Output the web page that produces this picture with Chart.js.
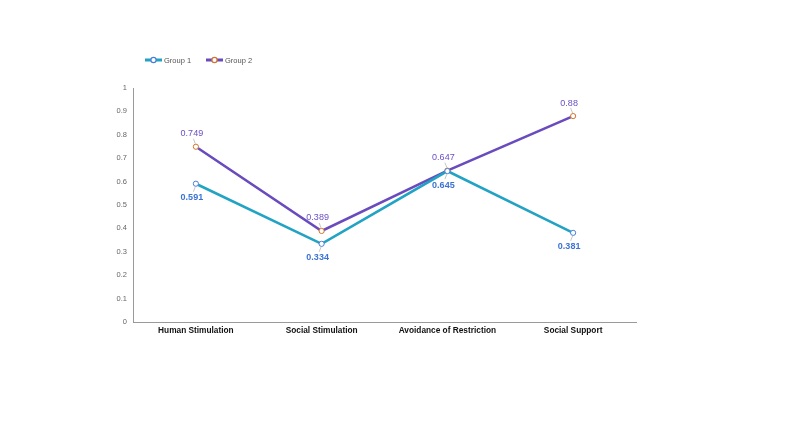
<!DOCTYPE html>
<html>
<head>
<meta charset="utf-8">
<script src="https://cdn.jsdelivr.net/npm/chart.js@4.4.1/dist/chart.umd.min.js"></script>
<style>
html,body{margin:0;padding:0;background:#fff;}
#wrap{position:relative;width:787px;height:443px;}
</style>
</head>
<body>
<div id="wrap"><canvas id="c" width="787" height="443"></canvas></div>
<script>
const categories = ["Human Stimulation", "Social Stimulation", "Avoidance of Restriction", "Social Support"];
const group1 = [0.591, 0.334, 0.645, 0.381];
const group2 = [0.749, 0.389, 0.647, 0.88];
const seriesNames = ["Group 1", "Group 2"];

const C1 = "#22a3c4", C1pt = "#4a7fd8", C1lbl = "#3d73d4";
const C2 = "#6a4bbd", C2pt = "#d4732a", C2lbl = "#6a4fc6";
const FONT = "'Liberation Sans', Arial, Helvetica, sans-serif";

const labelPlugin = {
  id: 'valLabels',
  afterDatasetsDraw(chart) {
    const ctx = chart.ctx;
    chart.data.datasets.forEach((ds, di) => {
      const meta = chart.getDatasetMeta(di);
      const above = di === 1;
      meta.data.forEach((pt, i) => {
        const v = ds.data[i];
        const x = pt.x, y = pt.y;
        const dy = above ? -13 : 14;
        ctx.save();
        ctx.strokeStyle = "#b8b8b8";
        ctx.lineWidth = 0.8;
        ctx.beginPath();
        ctx.moveTo(x - 0.5, y + (above ? -3 : 3));
        ctx.lineTo(x - 2.5, y + (above ? -8 : 8));
        ctx.stroke();
        ctx.font = (above ? "normal " : "bold ") + "9px " + FONT;
        ctx.fillStyle = above ? C2lbl : C1lbl;
        ctx.textAlign = "center";
        ctx.textBaseline = "middle";
        ctx.fillText(String(v), x - 4, y + dy);
        ctx.restore();
      });
    });
  }
};

const legendPlugin = {
  id: 'customLegend',
  afterDraw(chart) {
    const ctx = chart.ctx;
    const items = [
      {x: 145, color: C1, pt: C1pt, text: seriesNames[0]},
      {x: 206, color: C2, pt: C2pt, text: seriesNames[1]}
    ];
    const y = 60;
    items.forEach(it => {
      ctx.save();
      ctx.strokeStyle = it.color;
      ctx.lineWidth = 3;
      ctx.beginPath();
      ctx.moveTo(it.x, y);
      ctx.lineTo(it.x + 17, y);
      ctx.stroke();
      ctx.beginPath();
      ctx.arc(it.x + 8.5, y, 2.6, 0, Math.PI * 2);
      ctx.fillStyle = "#fff";
      ctx.fill();
      ctx.lineWidth = 1.2;
      ctx.strokeStyle = it.pt;
      ctx.stroke();
      ctx.font = "7.5px " + FONT;
      ctx.fillStyle = "#555";
      ctx.textAlign = "left";
      ctx.textBaseline = "middle";
      ctx.fillText(it.text, it.x + 19, y + 0.5);
      ctx.restore();
    });
  }
};

new Chart(document.getElementById('c'), {
  type: 'line',
  data: {
    labels: categories,
    datasets: [
      {
        label: seriesNames[0],
        data: group1,
        borderColor: C1,
        borderWidth: 2.6,
        pointRadius: 2.6,
        pointBorderWidth: 1,
        pointBackgroundColor: "#fff",
        pointBorderColor: C1pt,
        tension: 0,
        fill: false
      },
      {
        label: seriesNames[1],
        data: group2,
        borderColor: C2,
        borderWidth: 2.6,
        pointRadius: 2.6,
        pointBorderWidth: 1,
        pointBackgroundColor: "#fff",
        pointBorderColor: C2pt,
        tension: 0,
        fill: false
      }
    ]
  },
  options: {
    responsive: false,
    animation: false,
    layout: { padding: { top: 88, right: 151, left: 0, bottom: 0 } },
    plugins: {
      legend: { display: false },
      tooltip: { enabled: false }
    },
    scales: {
      x: {
        offset: true,
        grid: { display: false, drawTicks: false },
        border: { display: true, color: "#9a9a9a", width: 1 },
        ticks: {
          color: "#111",
          font: { family: FONT, size: 8.3, weight: 'bold' },
          padding: 4,
          maxRotation: 0,
          autoSkip: false
        },
        afterFit(scale) { scale.height = 121; }
      },
      y: {
        min: 0,
        max: 1,
        grid: { display: false, drawTicks: false },
        border: { display: true, color: "#9a9a9a", width: 1 },
        ticks: {
          stepSize: 0.1,
          color: "#666",
          font: { family: FONT, size: 7.5 },
          padding: 6,
          callback: (v) => String(Number(v.toFixed(1)))
        },
        afterFit(scale) { scale.width = 133; }
      }
    }
  },
  plugins: [labelPlugin, legendPlugin]
});
</script>
</body>
</html>
